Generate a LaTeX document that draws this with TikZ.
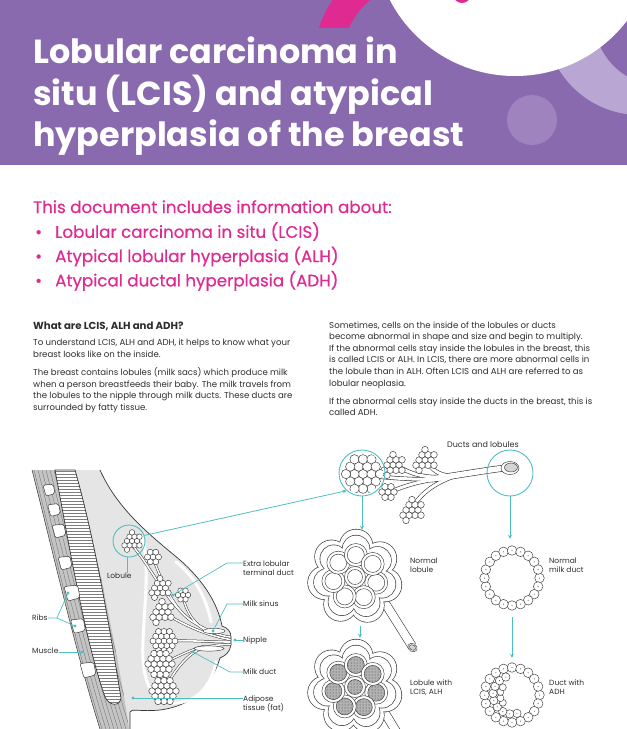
\documentclass[tikz,border=0pt]{standalone}
\usepackage{fontspec}
\setmainfont{Poppins}
\newfontfamily\pinkfont{Poppins}[FakeBold=0.5]
\usetikzlibrary{patterns}

\definecolor{hdrpurple}{RGB}{137,106,174}
\definecolor{lavring}{RGB}{186,166,210}
\definecolor{lavdot}{RGB}{158,131,191}
\definecolor{pinkc}{RGB}{222,42,145}
\definecolor{tealc}{RGB}{78,190,197}
\definecolor{textdark}{RGB}{45,45,45}
\definecolor{linegrey}{RGB}{55,55,55}
\definecolor{tissue}{RGB}{229,229,229}
\definecolor{musclegrey}{RGB}{196,196,196}
\definecolor{lumen}{RGB}{212,212,212}

\tikzset{
  title/.style={font=\fontsize{33.4}{41.5}\selectfont\bfseries, text=white, inner sep=0pt, anchor=base west},
  pinkline/.style={font=\fontsize{16.7}{24.3}\selectfont\pinkfont, text=pinkc, inner sep=0pt, anchor=base west},
  heading/.style={font=\fontsize{10.2}{11.6}\selectfont\bfseries, text=textdark, inner sep=0pt, anchor=base west},
  body/.style={font=\fontsize{8.6}{11.6}\selectfont, text=textdark, align=left, inner sep=0pt, anchor=base west},
  tag/.style={font=\fontsize{7.5}{9}\selectfont, text=textdark, align=left, inner sep=0pt, anchor=base west},
  callout/.style={circle, draw=tealc, line width=0.9pt, inner sep=0pt},
  spot/.style={circle, inner sep=0pt},
  leader/.style={draw=tealc, line width=0.7pt},
  tealarrow/.style={draw=tealc, line width=0.8pt, ->, >=stealth},
  cell/.style={draw=linegrey, fill=white, line width=0.45pt},
  outline/.style={draw=linegrey, line width=0.7pt},
  halo/.style={draw=white, line width=3pt, line cap=round},
  rib/.style={draw=linegrey, fill=white, line width=0.5pt, rounded corners=2pt},
  lcis/.style={fill=gray!60, postaction={pattern=dots, pattern color=linegrey}},
}

% cluster positions (hex packing)
\def\hexbig{0/0,1/0,.5/.87,-.5/.87,-1/0,-.5/-.87,.5/-.87,2/0,1.5/.87,1/1.73,0/1.73,-1/1.73,-1.5/.87,-2/0,-1.5/-.87,-1/-1.73,0/-1.73,1/-1.73,1.5/-.87}
\def\hexmid{0/0,1/0,.5/.87,-.5/.87,-1/0,-.5/-.87,.5/-.87,1.5/.87,-1.5/.87,0/-1.73,1.5/-.87,-1/1.73}
\def\hexsmall{0/0,1/0,.5/.87,-.5/.87,-1/0,-.5/-.87,.5/-.87}

\newcommand{\grapes}[4]{%
  \foreach \u/\v in #4
    \draw[cell] ({#1+#3*\u},{#2+#3*\v}) circle[radius={.55*#3}];}

\newcommand{\lobuleart}[3]{%
  \foreach \i in {0,...,6} \draw[linegrey, line width=1.3pt] ({#1+31*cos(\i*51.43+15)},{#2+31*sin(\i*51.43+15)}) circle[radius=16.5];
  \foreach \i in {0,...,6} \fill[white] ({#1+31*cos(\i*51.43+15)},{#2+31*sin(\i*51.43+15)}) circle[radius=16.5];
  \foreach \i in {0,...,6} \draw[linegrey, line width=1.3pt] ({#1+28*cos(\i*51.43+15)},{#2+28*sin(\i*51.43+15)}) circle[radius=13.5];
  \foreach \i in {0,...,6} \fill[white] ({#1+28*cos(\i*51.43+15)},{#2+28*sin(\i*51.43+15)}) circle[radius=13.5];
  \foreach \i in {0,...,6} {
    \draw[cell] ({#1+22*cos(\i*51.43+15)},{#2+22*sin(\i*51.43+15)}) circle[radius=11.5];
    \draw[cell,#3] ({#1+22*cos(\i*51.43+15)},{#2+22*sin(\i*51.43+15)}) circle[radius=8.5];}
  \draw[cell] (#1,#2) circle[radius=10.5];
  \draw[cell,#3] (#1,#2) circle[radius=7.5];}

\newcommand{\ductring}[2]{%
  \foreach \i in {0,...,19} {
    \draw[cell] ({#1+27.5*cos(\i*18)},{#2+27.5*sin(\i*18)}) circle[radius=4.8];
    \fill[linegrey] ({#1+27.5*cos(\i*18)},{#2+27.5*sin(\i*18)}) circle[radius=.5];}}

\newcommand{\breastducts}[1]{%
  \draw[line width=1.6+#1] (131,544) .. controls (150,565) and (165,600) .. (190,620) .. controls (205,630) and (220,636) .. (230,637);
  \draw[line width=1.4+#1] (153,558) .. controls (163,585) and (175,610) .. (192,621);
  \draw[line width=1.4+#1] (183,597) .. controls (186,612) and (195,625) .. (207,631);
  \draw[line width=1.6+#1] (162,612) .. controls (180,622) and (200,634) .. (230,639.5);
  \draw[line width=1.6+#1] (164,641) .. controls (190,640) and (210,642) .. (230,642);
  \draw[line width=1.4+#1] (160,664) .. controls (172,660) and (188,650) .. (205,646);
  \draw[line width=1.6+#1] (164,690) .. controls (175,670) and (186,655) .. (202,648) .. controls (214,645) and (222,644.5) .. (230,644.5);}

\newcommand{\treeducts}[1]{%
  \draw[line width=5.5+#1] (432,479) .. controls (465,474) and (488,470) .. (505,468);
  \draw[line width=3+#1] (368,476) .. controls (395,478) and (415,480) .. (436,479);
  \draw[line width=3+#1] (398,466) .. controls (410,474) and (425,478) .. (445,477);
  \draw[line width=3+#1] (426,460) .. controls (432,470) and (438,475) .. (452,476);
  \draw[line width=3+#1] (392,491) .. controls (408,485) and (420,481) .. (440,479);
  \draw[line width=3+#1] (412,508) .. controls (420,495) and (432,484) .. (455,476);}

\def\hatchpath{(55,470) .. controls (70,550) and (85,640) .. (105,697) .. controls (110,707) and (120,706) .. (121,698) .. controls (110,630) and (95,540) .. (75,470) -- cycle}
\def\musclepath{(32,470) .. controls (50,540) and (75,650) .. (100,729) -- (129,729) .. controls (124,690) and (100,560) .. (75,470) -- cycle}
\def\breastline{(100,470) .. controls (118,510) and (150,535) .. (180,560) .. controls (205,582) and (218,605) .. (222,626) .. controls (228,628) and (231,632) .. (231,637) -- (231,645) .. controls (230,652) and (225,656) .. (220,658) .. controls (210,690) and (190,706) .. (160,710) .. controls (140,712) and (131,708) .. (130,712) -- (130,729)}

\begin{document}
\begin{tikzpicture}[x=1pt,y=-1pt]
\useasboundingbox (0,0) rectangle (627,729);

% header
\fill[hdrpurple] (0,0) rectangle (627,165);
\begin{scope}
  \clip (0,0) rectangle (627,165);
  \fill[lavring] (640,20) circle (95);
  \fill[hdrpurple] (662,18) circle (68);
  \fill[lavdot] (532,120) circle (25);
  \begin{scope}
    \clip (0,0) rectangle (627,27);
    \draw[pinkc, line width=28pt] (420,60) circle (92);
  \end{scope}
  \fill[white] (515,-65) circle (141);
  \fill[pinkc] (462,-6) circle (9);
\end{scope}
\foreach \t [count=\i] in {Lobular carcinoma in, situ (LCIS) and atypical, hyperplasia of the breast}
  \node[title] (ttl\i) at (33,{22+41.5*\i}) {\t};

% includes list
\node[pinkline] (incl) at (33,213) {This document includes information about:};
\foreach \t [count=\i] in {Lobular carcinoma in situ (LCIS), Atypical lobular hyperplasia (ALH), Atypical ductal hyperplasia (ADH)} {
  \node[pinkline] (bul\i) at (35,{213.5+24.3*\i}) {•};
  \node[pinkline] (item\i) at (55,{213.5+24.3*\i}) {\t};}

% body text (anchored at the last line)
\node[heading] (qhead) at (33,329.5) {What are LCIS, ALH and ADH?};
\node[body] (lpara1) at (33,357.1) {To understand LCIS, ALH and ADH, it helps to know what your\\breast looks like on the inside.};
\node[body] (lpara2) at (33,410.3) {The breast contains lobules (milk sacs) which produce milk\\when a person breastfeeds their baby. The milk travels from\\the lobules to the nipple through milk ducts. These ducts are\\surrounded by fatty tissue.};
\node[body] (rpara1) at (329,386) {Sometimes, cells on the inside of the lobules or ducts\\become abnormal in shape and size and begin to multiply.\\If the abnormal cells stay inside the lobules in the breast, this\\is called LCIS or ALH. In LCIS, there are more abnormal cells in\\the lobule than in ALH. Often LCIS and ALH are referred to as\\lobular neoplasia.};
\node[body] (rpara2) at (329,415.6) {If the abnormal cells stay inside the ducts in the breast, this is\\called ADH.};

% breast cross-section
\fill[tissue] (75,470) -- \breastline -- (100,729) -- cycle;
\fill[musclegrey] \musclepath;
\begin{scope}
  \clip \musclepath;
  \foreach \d in {-2,2,...,46}
    \draw[linegrey!70, line width=.35pt, xshift=\d] (32,470) .. controls (50,540) and (75,650) .. (100,729);
\end{scope}
\fill[white] \hatchpath;
\begin{scope}
  \clip \hatchpath;
  \foreach \y in {471,474,...,705} \draw[linegrey!65, line width=.35pt] (50,\y) -- (125,\y);
\end{scope}
\draw[outline] \hatchpath;
\draw[linegrey, line width=.5pt] (32,470) .. controls (50,540) and (75,650) .. (100,729);
\foreach \x/\y/\s in {49/490/6,54/510/6.5,59/531/7,65/563/7,72/593/8,78/626/7.5,88/670/8}
  \draw[rib] (\x-\s,\y-\s*.8) -- (\x+\s*.7,\y-\s) -- (\x+\s,\y+\s*.6) -- (\x-\s*.5,\y+\s) -- cycle;
\draw[outline] \breastline;
\draw[halo] (141,535) .. controls (150,555) and (145,600) .. (143,640) .. controls (141,680) and (150,702) .. (175,703) .. controls (200,702) and (212,682) .. (216,662);
\draw[halo] (176,562) .. controls (195,576) and (207,600) .. (211,622);
\begin{scope}[draw=linegrey, line cap=round]\breastducts{1}\end{scope}
\begin{scope}[draw=white, line cap=round]\breastducts{0}\end{scope}
\draw[cell] (214,631) ellipse (11 and 2.6);
\draw[cell] (209,648.5) ellipse (15 and 2.6);
\grapes{132}{541}{5}{\hexmid}
\grapes{153}{557}{5.5}{\hexsmall}
\grapes{160}{588}{5.5}{\hexmid}
\grapes{183}{595}{5}{\hexsmall}
\grapes{162}{612}{6}{\hexmid}
\grapes{164}{641}{5.5}{\hexbig}
\grapes{160}{664}{6}{\hexbig}
\grapes{164}{691}{6}{\hexbig}

% breast labels
\node[callout, minimum size=32] (lobc) at (129,541) {};
\node[tag] (tlob) at (107,578.5) {Lobule};
\draw[leader] (lobc.265) -- (tlob.north -| lobc.265);
\node[tag] (tetd) at (243,575) {Extra lobular\\terminal duct};
\node[tag] (tsin) at (243,606.5) {Milk sinus};
\node[tag] (tnip) at (243,642.5) {Nipple};
\node[tag] (tduct) at (243,674.5) {Milk duct};
\node[tag] (tadi) at (243,710) {Adipose\\tissue (fat)};
\node[tag] (tribs) at (32,620.5) {Ribs};
\node[tag] (tmus) at (32,653.5) {Muscle};
\coordinate (detd) at (173,595);
\coordinate (ketd) at (227,563);
\coordinate (dsin) at (213,631);
\coordinate (ksin) at (227,604);
\coordinate (dnip) at (235,640);
\coordinate (dduct) at (193,652);
\coordinate (kduct) at (230,672);
\coordinate (dadi) at (133,698);
\coordinate (kribs) at (57,618);
\coordinate (dribA) at (68,593);
\coordinate (dribB) at (75,626);
\coordinate (dmus) at (82,652);
\draw[leader] (detd) -- (ketd) -- (tetd.west |- ketd);
\draw[leader] (dsin) -- (ksin) -- (tsin.west |- ksin);
\draw[leader] (dnip) -- (tnip.west |- dnip);
\draw[leader] (dduct) -- (kduct) -- (tduct.west |- kduct);
\draw[leader] (dadi) -- (tadi.west |- dadi);
\draw[leader] (tribs.east |- kribs) -- (kribs) -- (dribA);
\draw[leader] (kribs) -- (dribB);
\draw[leader] (tmus.east |- dmus) -- (dmus);
\foreach \p in {detd,dsin,dnip,dduct,dadi,dribA,dribB,dmus}
  \fill[tealc] (\p) circle (1.6);

% ducts and lobules
\node[tag, font=\fontsize{8}{9}\selectfont] (tdl) at (447,447) {Ducts and lobules};
\begin{scope}[draw=linegrey, line cap=round]\treeducts{1.2}\end{scope}
\begin{scope}[draw=white, line cap=round]\treeducts{0}\end{scope}
\grapes{393}{465}{6}{\hexmid}
\grapes{425}{460}{6}{\hexmid}
\grapes{388}{492}{6}{\hexsmall}
\grapes{412}{510}{6}{\hexmid}
\begin{scope}
  \clip (362,473) circle (21);
  \grapes{363}{474}{8.5}{\hexbig}
\end{scope}
\draw[cell] (510,468) ellipse (9 and 6.5);
\draw[linegrey, fill=lumen, line width=.45pt] (511,467.5) ellipse (6.5 and 4.5);
\node[callout, minimum size=46] (cirA) at (362,473) {};
\node[callout, minimum size=46] (cirB) at (510,473) {};
\draw[tealarrow] (lobc.20) -- (cirA.229);

% lobules
\node[spot, minimum size=94] (lobN) at (355,577) {};
\node[spot, minimum size=94] (lobL) at (355,687) {};
\draw[linegrey, line width=9.2pt] (385,603) -- (412,646);
\draw[white, line width=8pt] (385,603) -- (412,646);
\draw[cell, rotate around={-30:(412.5,647.5)}] (412.5,647.5) ellipse (5 and 4);
\draw[linegrey, fill=lumen, line width=.45pt, rotate around={-30:(412.5,647.5)}] (412.5,647.5) ellipse (3.4 and 2.6);
\draw[linegrey, line width=9.2pt] (385,713) -- (405,746);
\draw[white, line width=8pt] (385,713) -- (405,746);
\lobuleart{355}{577}{fill=white}
\lobuleart{355}{687}{lcis}
\node[tag] (tnl) at (410,572.5) {Normal\\lobule};
\node[tag] (tll) at (410,694.5) {Lobule with\\LCIS, ALH};

% milk ducts
\node[spot, minimum size=64] (ductN) at (512,578) {};
\node[spot, minimum size=64] (ductA) at (512,695) {};
\ductring{512}{578}
\ductring{512}{695}
\foreach \i in {0,...,8} {
  \draw[cell] ({512+19*cos(75+\i*22)},{695+19*sin(75+\i*22)}) circle[radius=4.2];
  \fill[linegrey] ({512+19*cos(75+\i*22)},{695+19*sin(75+\i*22)}) circle[radius=.5];}
\foreach \a in {140,165,195,220} \draw[cell] ({512+12*cos(\a)},{695+12*sin(\a)}) circle[radius=3.5];
\node[tag] (tnd) at (549,572.5) {Normal\\milk duct};
\node[tag] (tad) at (549,694.5) {Duct with\\ADH};

% arrows
\draw[tealarrow] (cirA.south) -- (cirA.south |- lobN.north);
\draw[tealarrow] ([xshift=5pt,yshift=-2pt]lobN.south) -- ([xshift=5pt,yshift=2pt]lobL.north);
\draw[tealarrow] (cirB.south) -- ([yshift=7pt]cirB.south |- ductN.north);
\draw[tealarrow] ([yshift=-7pt]ductN.south) -- ([yshift=5pt]ductA.north);
\end{tikzpicture}
\end{document}
